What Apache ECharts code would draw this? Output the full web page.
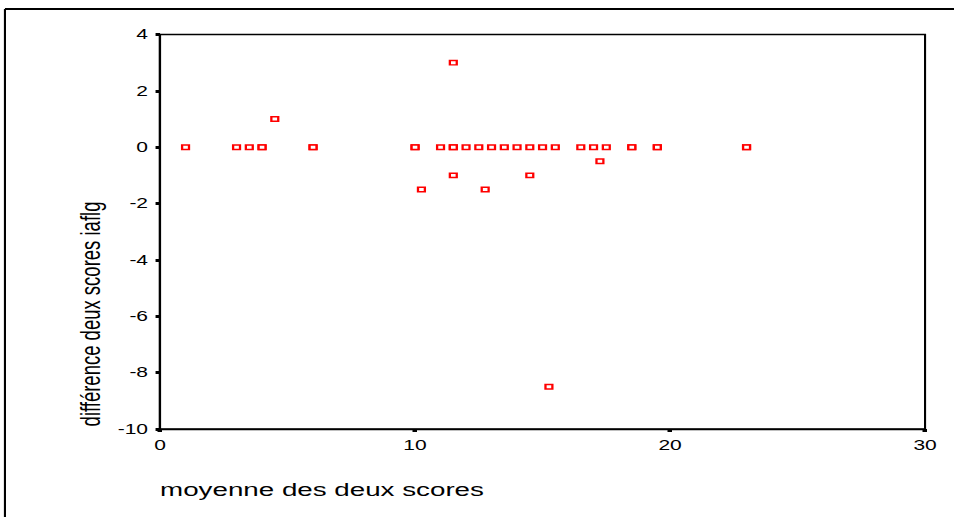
<!DOCTYPE html>
<html>
<head>
<meta charset="utf-8">
<script src="https://cdn.jsdelivr.net/npm/echarts@6/dist/echarts.min.js"></script>
<style>
  html, body { margin: 0; padding: 0; background: #fff; overflow: hidden; width: 954px; height: 517px; }
  /* The chart is laid out at 2/3 width and stretched horizontally, giving the wide SPSS-style glyphs */
  #chart { width: 636px; height: 517px; transform: scaleX(1.5); transform-origin: 0 0; }
</style>
</head>
<body>
<div id="chart"></div>
<script>
// Bland-Altman style plot: mean of the two scores vs their difference
const meanScores = [1, 3, 3.5, 4, 4, 4.5, 6, 6, 10, 10, 10.25, 11, 11.5, 11.5, 11.5, 11.5,
  12, 12.5, 12.75, 13, 13.5, 14, 14.5, 14.5, 15, 15.25, 15.5, 16.5, 17, 17.25, 17.5,
  18.5, 18.5, 19.5, 19.5, 23, 23];
const diffScores = [0, 0, 0, 0, 0, 1, 0, 0, 0, 0, -1.5, 0, 3, 0, 0, -1,
  0, 0, -1.5, 0, 0, 0, 0, -1, 0, -8.5, 0, 0, 0, -0.5, 0,
  0, 0, 0, 0, 0, 0];
const xTicks = [0, 10, 20, 30];
const yTicks = [-10, -8, -6, -4, -2, 0, 2, 4];
const xTitle = 'moyenne des deux scores';
const yTitle = 'différence deux scores iaflg';

const points = meanScores.map((m, i) => [m, diffScores[i]]);

const chart = echarts.init(document.getElementById('chart'), null, { renderer: 'svg' });
const font = 'Liberation Sans, Arial, sans-serif';

chart.setOption({
  animation: false,
  backgroundColor: '#fff',
  grid: {
    left: 106.7, right: 19.3, top: 34.5, bottom: 88,
    show: true, borderColor: '#000', borderWidth: 1.4, backgroundColor: '#fff'
  },
  xAxis: {
    type: 'value',
    min: xTicks[0], max: xTicks[xTicks.length - 1], interval: 10,
    axisLine: { show: true, onZero: false, lineStyle: { color: '#000', width: 1.4 } },
    axisTick: { show: true, inside: false, length: 3, lineStyle: { color: '#000', width: 3 } },
    splitLine: { show: false },
    axisLabel: { color: '#000', fontSize: 14, fontFamily: font, margin: 9 }
  },
  yAxis: {
    type: 'value',
    min: yTicks[0], max: yTicks[yTicks.length - 1], interval: 2,
    axisLine: { show: true, onZero: false, lineStyle: { color: '#000', width: 1.4 } },
    axisTick: { show: true, inside: false, length: 3, lineStyle: { color: '#000', width: 3 } },
    splitLine: { show: false },
    axisLabel: { color: '#000', fontSize: 14, fontFamily: font, margin: 8 }
  },
  graphic: [
    // outer frame (top and left edges)
    { type: 'line', shape: { x1: 3.3, y1: 9, x2: 640, y2: 9 }, style: { stroke: '#000', lineWidth: 2 } },
    { type: 'line', shape: { x1: 3.3, y1: 9, x2: 3.3, y2: 520 }, style: { stroke: '#000', lineWidth: 1.4 } },
    {
      type: 'text', left: 106.7, top: 480,
      style: { text: xTitle, fill: '#000', font: '18.5px ' + font }
    },
    {
      type: 'text', x: 60.5, y: 314, rotation: Math.PI / 2,
      style: { text: yTitle, fill: '#000', font: '18.5px ' + font, align: 'center', verticalAlign: 'middle' }
    }
  ],
  series: [{
    type: 'scatter',
    data: points,
    symbol: 'rect',
    symbolSize: [4.6, 4.4],
    itemStyle: { color: '#fff', borderColor: '#ff0000', borderWidth: 1.5, opacity: 1 }
  }]
});
</script>
</body>
</html>
